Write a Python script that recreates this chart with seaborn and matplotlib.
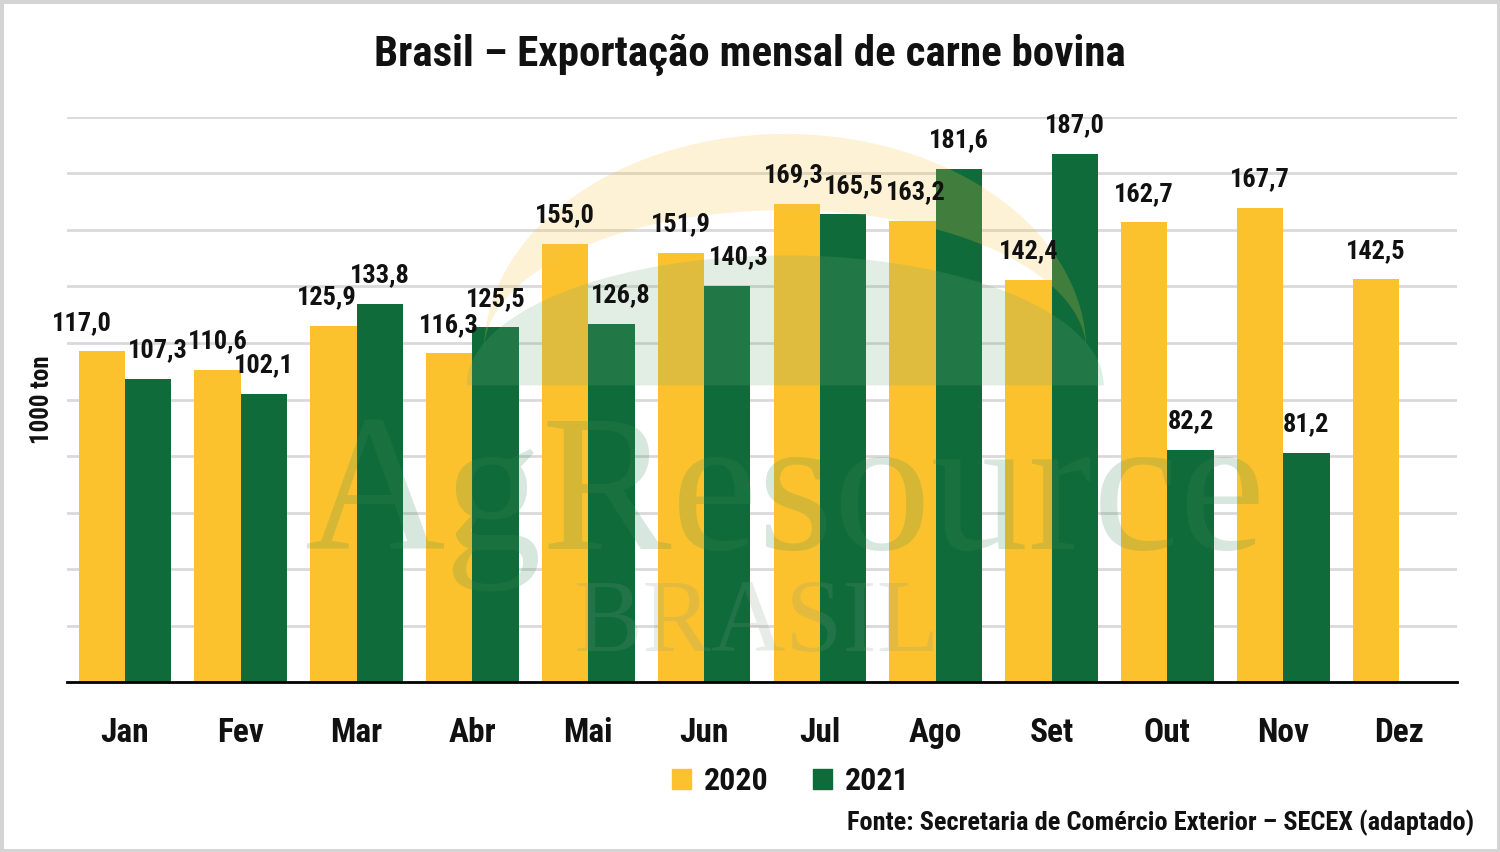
import numpy as np
import pandas as pd
import seaborn as sns
import matplotlib.pyplot as plt
from matplotlib.patches import Patch

meses = ['Jan', 'Fev', 'Mar', 'Abr', 'Mai', 'Jun', 'Jul', 'Ago', 'Set', 'Out', 'Nov', 'Dez']
exp_2020 = [117.0, 110.6, 125.9, 116.3, 155.0, 151.9, 169.3, 163.2, 142.4, 162.7, 167.7, 142.5]
exp_2021 = [107.3, 102.1, 133.8, 125.5, 126.8, 140.3, 165.5, 181.6, 187.0, 82.2, 81.2, np.nan]
anos = ['2020', '2021']
cores = {'2020': '#FBC22E', '2021': '#0F6B3A'}

# deslocamento horizontal dos rótulos (em pontos), como no gráfico original
desloc = {
    '2020': [-14, 0, -5, 0, 0, 0, -2, 2, 0, 0, 0, 0],
    '2021': [7, 0, 0, 0, 7, 8, 8, 0, 0, 0, 0, 0],
}

df = pd.DataFrame({
    'Mes': meses * 2,
    'Ano': [anos[0]] * 12 + [anos[1]] * 12,
    'Valor': exp_2020 + exp_2021,
})

sns.set_style('white')
plt.rcParams['font.family'] = ['Roboto Condensed', 'DejaVu Sans']
plt.rcParams['font.stretch'] = 'condensed'
plt.rcParams['font.weight'] = 'bold'
plt.rcParams['text.color'] = '#111111'
plt.rcParams['xtick.color'] = '#111111'
plt.rcParams['axes.labelcolor'] = '#111111'

fig = plt.figure(figsize=(15, 8.52), dpi=100)
fig.patch.set_edgecolor('#d4d4d4')
fig.patch.set_linewidth(5)
ax = fig.add_axes([0.0447, 0.1995, 0.9266, 0.6632])

sns.barplot(data=df, x='Mes', y='Valor', hue='Ano', palette=cores, width=0.8,
            saturation=1, legend=False, linewidth=0, ax=ax, zorder=2)

# rótulos de valor
for ano, cont in zip(anos, ax.containers):
    for barra, dx in zip(cont, desloc[ano]):
        h = barra.get_height()
        if np.isnan(h):
            continue
        ax.annotate(f'{h:.1f}'.replace('.', ','),
                    (barra.get_x() + barra.get_width() / 2, h),
                    xytext=(dx, 12), textcoords='offset points',
                    ha='center', va='bottom', fontsize=19, fontweight='bold',
                    zorder=5)

# marca d'água (logo)
t = np.linspace(0, np.pi, 200)
cx, cy = 5.7, 117
ax.fill(np.r_[cx + 2.6 * np.cos(t), (cx + 2.6 * np.cos(t))[::-1]],
        np.r_[cy + 77 * np.sin(t), (cy + 50 * np.sin(t))[::-1]],
        color='#f7c548', alpha=0.22, lw=0, zorder=3)
ax.fill(np.r_[cx + 2.75 * np.cos(t)], np.r_[105 + 46 * np.sin(t)],
        color='#6fa87c', alpha=0.2, lw=0, zorder=3)
ax.text(5.7, 47, 'AgResource', family=['Liberation Serif', 'DejaVu Serif'],
        fontweight='normal', fontstretch='normal', fontsize=140, color='#3d8a55',
        alpha=0.2, ha='center', va='baseline', zorder=3)
ax.text(5.45, 11, 'BRASIL', family=['Liberation Serif', 'DejaVu Serif'],
        fontweight='normal', fontstretch='normal', fontsize=74, color='#7a9a84',
        alpha=0.18, ha='center', va='baseline', zorder=3)

ax.set_ylim(0, 200)
ax.set_yticks(np.arange(20, 201, 20))
ax.set_yticklabels([])
ax.tick_params(axis='y', length=0)
ax.grid(axis='y', color='#d9d9d9', lw=2, zorder=0)
ax.set_axisbelow(True)

ax.set_xlim(-0.5, 11.5)
ax.set_xticks(np.arange(-0.5, 12, 1))
ax.set_xticklabels([])
ax.set_xticks(np.arange(12), minor=True)
ax.set_xticklabels(meses, minor=True, fontsize=24, fontweight='bold')
ax.tick_params(axis='x', which='major', length=10, width=2, direction='out', color='black')
ax.tick_params(axis='x', which='minor', length=0, pad=25)
ax.set_xlabel('')

for s in ['top', 'right', 'left']:
    ax.spines[s].set_visible(False)
ax.spines['bottom'].set_color('black')
ax.spines['bottom'].set_linewidth(2)

ax.set_ylabel('1000 ton', fontsize=18, fontweight='bold', labelpad=6)

fig.text(0.5, 0.935, 'Brasil – Exportação mensal de carne bovina', ha='center', va='center',
         fontsize=31, fontweight='bold')

handles = [Patch(color=cores[a], label=a) for a in anos]
fig.legend(handles=handles, loc='center', bbox_to_anchor=(0.527, 0.083), ncol=2,
           frameon=False, fontsize=23, handlelength=0.6, handleheight=0.6,
           handletextpad=0.4, columnspacing=1.4)

fig.text(0.983, 0.034, 'Fonte: Secretaria de Comércio Exterior – SECEX (adaptado)',
         ha='right', va='center', fontsize=19, fontweight='bold')

fig.savefig('out.png', dpi=100, facecolor='white', edgecolor=fig.patch.get_edgecolor())
